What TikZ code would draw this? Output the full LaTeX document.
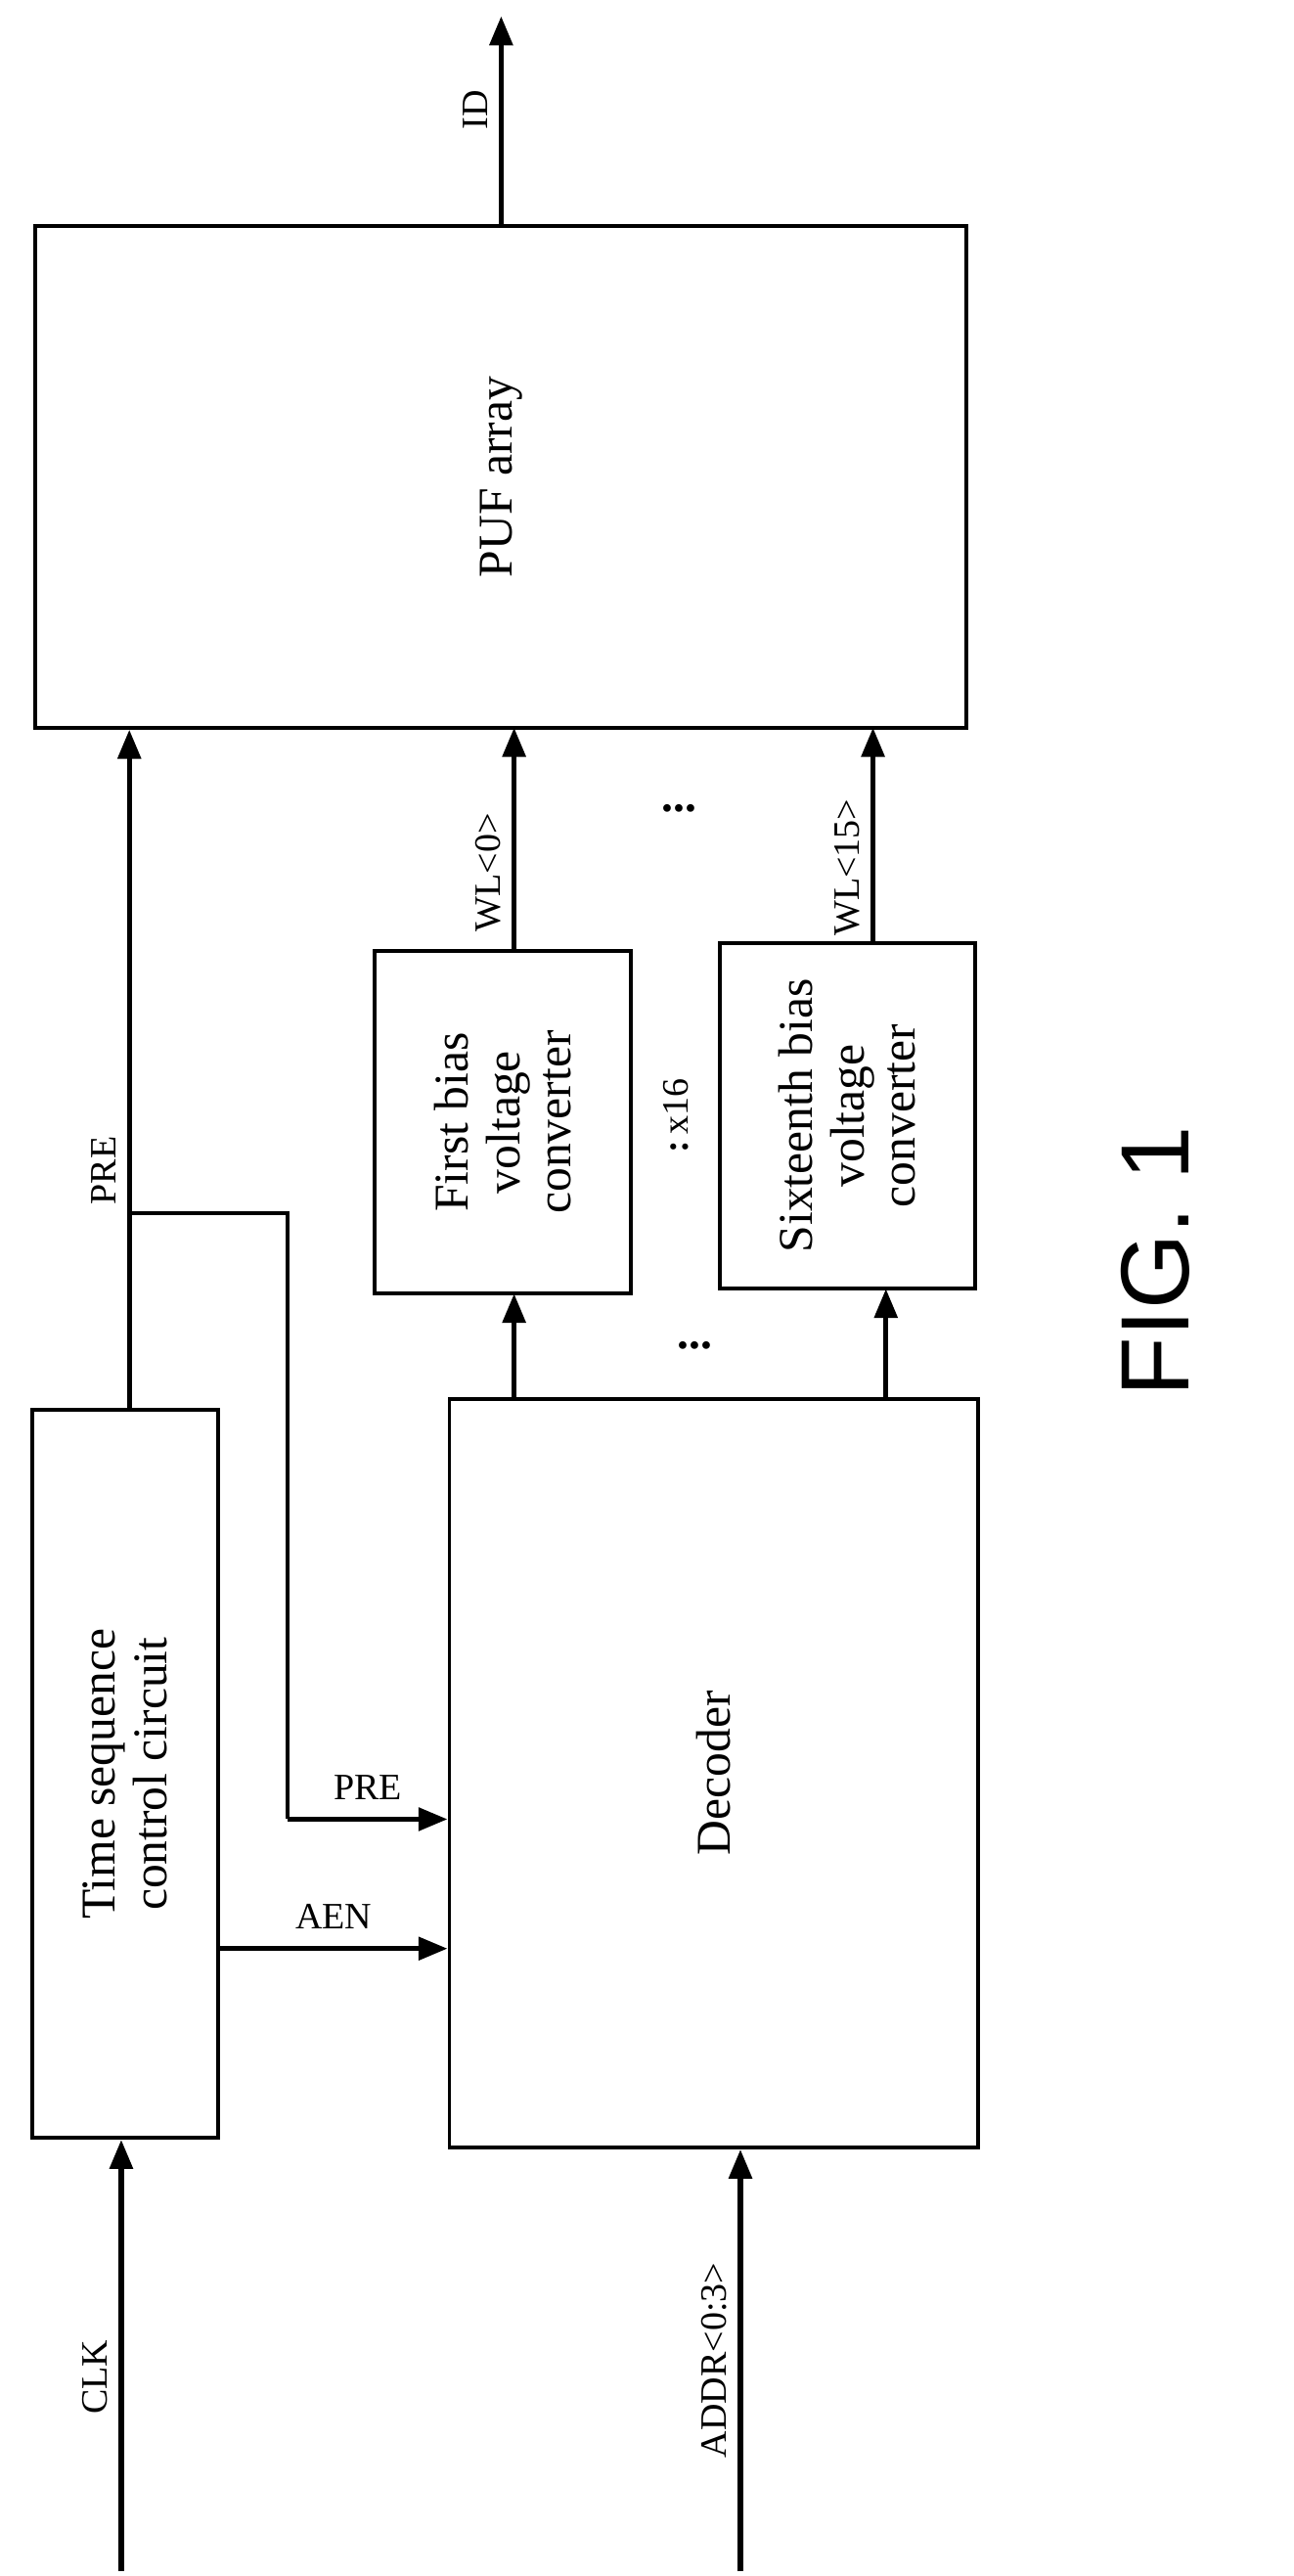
\documentclass[tikz,border=0pt]{standalone}
\usepackage{fontspec}
\setmainfont{Liberation Serif}
\newfontfamily\figfont{Liberation Sans}
\usetikzlibrary{arrows.meta,positioning}
\tikzset{%
	blk/.style={draw, line width=1.2pt, inner sep=0pt},
	sig/.style={line width=1.6pt, -{Triangle[length=9pt,width=7pt]}},
	wire/.style={line width=1.2pt},
	lbl/.style={rotate=90, font=\fontsize{11.5}{13}\selectfont},
	txt/.style={rotate=90, align=center, font=\fontsize{15}{16}\selectfont}
}
\begin{document}
\begin{tikzpicture}[x=0.5pt,y=-0.5pt]
	\useasboundingbox (0,0) rectangle (800,1593);
	% blocks
	\node[blk, minimum width=288pt, minimum height=155pt] (puf) at (310,295) {};
	\node[blk, minimum width=57.5pt, minimum height=225pt] (tsc) at (77.5,1097) {};
	\node[blk, minimum width=163.5pt, minimum height=231.5pt] (dec) at (441.5,1096.5) {};
	\node[blk, minimum width=79pt, minimum height=106pt] (bv1) at (311,694) {};
	\node[blk, minimum width=79pt, minimum height=107pt] (bv16) at (524,690) {};
	\node[txt] at (puf.center) {PUF array};
	\node[txt] at (tsc.center) {Time sequence\\control circuit};
	\node[txt] at (dec.center) {Decoder};
	\node[txt] at (bv1.center) {First bias\\voltage\\converter};
	\node[txt] at (bv16.center) {Sixteenth bias\\voltage\\converter};
	% free ends
	\coordinate (idend) at (310,10);
	\coordinate (clkin) at (75,1590);
	\coordinate (addrin) at (458,1590);
	\coordinate (split) at (80,750);
	% signals
	\draw[sig] (puf.north -| idend) -- (idend) node[lbl, pos=0.55, above] {ID};
	\draw[sig] (split |- tsc.north) -- (split |- puf.south) node[lbl, pos=0.35, above] {PRE};
	\draw[wire] (split) -- (178,750) -- (178,1125);
	\draw[sig] (178,1125) -- (dec.west |- 0,1125) node[lbl, midway, above=2pt, rotate=-90] {PRE};
	\draw[sig] (tsc.east |- 0,1205) -- (dec.west |- 0,1205) node[lbl, midway, above=2pt, rotate=-90] {AEN};
	\draw[sig] (clkin) -- (clkin |- tsc.south) node[lbl, pos=0.45, above] {CLK};
	\draw[sig] (addrin) -- (addrin |- dec.south) node[lbl, pos=0.5, above] {ADDR<0:3>};
	\draw[sig] (318,865) -- (318,800);
	\draw[sig] (548,865) -- (548,797);
	\draw[sig] (318,588) -- (318,450) node[lbl, pos=0.35, above] {WL<0>};
	\draw[sig] (540,583) -- (540,450) node[lbl, pos=0.35, above] {WL<15>};
	% dots
	\node[font=\bfseries\Large] at (430,832) {...};
	\node[font=\bfseries\Large] at (420,500) {...};
	\node[lbl] at (418,690) {\textbf{:}\,x16};
	\node[rotate=90, font=\figfont\fontsize{30}{32}\selectfont] at (715,780) {FIG. 1};
\end{tikzpicture}
\end{document}
